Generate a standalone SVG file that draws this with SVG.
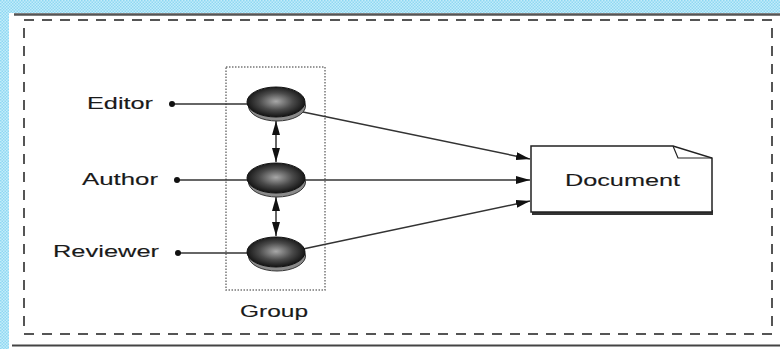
<svg xmlns="http://www.w3.org/2000/svg" width="780" height="349" viewBox="0 0 780 349">
  <defs>
    <pattern id="hatch" width="3" height="3" patternUnits="userSpaceOnUse">
      <rect width="3" height="3" fill="#c4ecfa"/>
      <rect width="1.5" height="1.5" fill="#8fd8f2"/>
      <rect x="1.5" y="1.5" width="1.5" height="1.5" fill="#8fd8f2"/>
    </pattern>
    <radialGradient id="ball" cx="0.5" cy="0.48" r="0.58">
      <stop offset="0" stop-color="#a8a8a8"/>
      <stop offset="0.5" stop-color="#4a4a4a"/>
      <stop offset="1" stop-color="#050505"/>
    </radialGradient>
    <marker id="arr" viewBox="0 0 14 8" refX="14" refY="4" markerWidth="14" markerHeight="8" markerUnits="userSpaceOnUse" orient="auto-start-reverse">
      <path d="M0,0 L14,4 L0,8 Z" fill="#111"/>
    </marker>
  </defs>
  <style>
    .lbl { font-family: "Liberation Sans", Arial, sans-serif; font-size: 16px; fill: #1a1a1a; stroke: #1a1a1a; stroke-width: 0.12; }
    .wire { stroke: #333; stroke-width: 1.5; fill: none; }
    .dot { fill: #111; }
    .shadow { fill: #8a8a8a; stroke: #333; stroke-width: 1; }
    .sphere { fill: url(#ball); stroke: #111; stroke-width: 1; }
  </style>

  <!-- page background -->
  <rect width="780" height="349" fill="#fff"/>
  <rect x="0" y="0" width="780" height="13" fill="url(#hatch)"/>
  <rect x="0" y="0" width="9" height="349" fill="url(#hatch)"/>
  <line x1="14" y1="14.5" x2="780" y2="14.5" stroke="#555" stroke-width="2.5"/>
  <line x1="12" y1="345.5" x2="780" y2="345.5" stroke="#444" stroke-width="2"/>

  <!-- outer dashed frame -->
  <rect x="24" y="20" width="748" height="314" fill="none" stroke="#555" stroke-width="2" stroke-dasharray="10 8"/>

  <!-- group boundary -->
  <g id="group">
    <rect x="226" y="67" width="99" height="223" fill="none" stroke="#777" stroke-width="1.5" stroke-dasharray="1.5 1.5"/>
    <text class="lbl" x="240" y="317" textLength="68" lengthAdjust="spacingAndGlyphs">Group</text>
  </g>

  <!-- connectors -->
  <g id="connectors">
    <line class="wire" x1="172" y1="104" x2="248" y2="104"/>
    <line class="wire" x1="177" y1="180" x2="248" y2="180"/>
    <line class="wire" x1="178" y1="253" x2="248" y2="253"/>
    <circle class="dot" cx="172" cy="104" r="3"/>
    <circle class="dot" cx="177" cy="180" r="3"/>
    <circle class="dot" cx="178" cy="253" r="3"/>
    <line class="wire" x1="276" y1="121" x2="276" y2="162" marker-start="url(#arr)" marker-end="url(#arr)"/>
    <line class="wire" x1="276" y1="197" x2="276" y2="236" marker-start="url(#arr)" marker-end="url(#arr)"/>
    <line class="wire" x1="303" y1="112" x2="530" y2="159" marker-end="url(#arr)"/>
    <line class="wire" x1="305" y1="180" x2="530" y2="180" marker-end="url(#arr)"/>
    <line class="wire" x1="303" y1="249" x2="530" y2="201" marker-end="url(#arr)"/>
  </g>

  <!-- actors -->
  <g id="editor">
    <text class="lbl" x="87" y="109" textLength="66" lengthAdjust="spacingAndGlyphs">Editor</text>
    <ellipse class="shadow" cx="277" cy="106" rx="28.5" ry="15"/>
    <ellipse class="sphere" cx="276" cy="102" rx="29" ry="15"/>
  </g>
  <g id="author">
    <text class="lbl" x="82" y="185" textLength="76" lengthAdjust="spacingAndGlyphs">Author</text>
    <ellipse class="shadow" cx="277" cy="182" rx="28.5" ry="15"/>
    <ellipse class="sphere" cx="276" cy="178" rx="29" ry="15"/>
  </g>
  <g id="reviewer">
    <text class="lbl" x="53" y="257" textLength="106" lengthAdjust="spacingAndGlyphs">Reviewer</text>
    <ellipse class="shadow" cx="277" cy="256" rx="28.5" ry="15"/>
    <ellipse class="sphere" cx="276" cy="252" rx="29" ry="15"/>
  </g>

  <!-- document -->
  <g id="document">
    <rect x="532" y="210" width="181" height="5" fill="#333"/>
    <path d="M531,146 H673 L712,158 V212 H531 Z" fill="#fff" stroke="#222" stroke-width="1.5"/>
    <path d="M673,146 L678,158 H712" fill="none" stroke="#222" stroke-width="1.2"/>
    <text class="lbl" x="565" y="186" font-size="17" textLength="115" lengthAdjust="spacingAndGlyphs">Document</text>
  </g>
</svg>
